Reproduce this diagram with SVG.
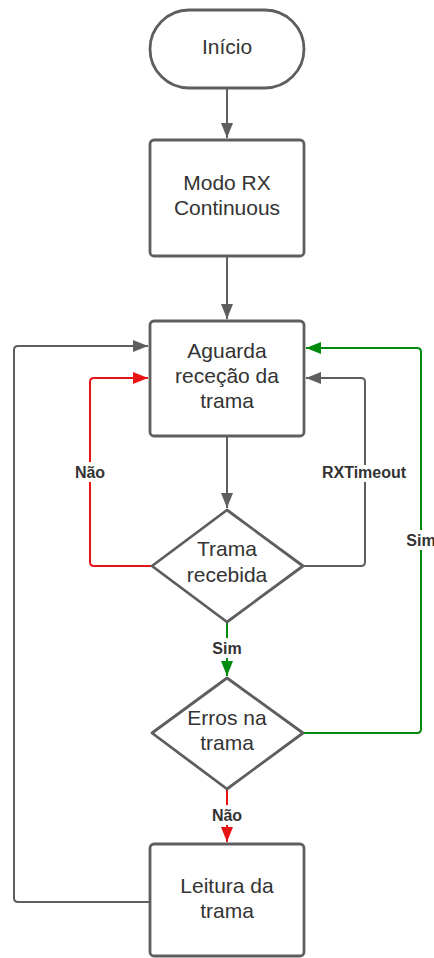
<svg xmlns="http://www.w3.org/2000/svg" width="434" height="958" viewBox="0 0 434 958">
<style>
.shape{fill:#fff;stroke:#5e5e5e;stroke-width:2.8;stroke-linejoin:round}
.t{font-family:"Liberation Sans",Arial,sans-serif;font-size:21px;fill:#333;text-anchor:middle}
.lbl{font-family:"Liberation Sans",Arial,sans-serif;font-size:16px;font-weight:bold;fill:#333;text-anchor:middle;stroke:#fff;stroke-width:8;paint-order:stroke;stroke-linejoin:round}
.c{fill:none;stroke-width:2}
.gray{stroke:#5e5e5e}
.green{stroke:#008a0e}
.red{stroke:#e81313}
</style>
<defs>
<marker id="ag" markerUnits="userSpaceOnUse" markerWidth="16" markerHeight="12" refX="15" refY="6" orient="auto"><path d="M0,0 L15,6 L0,12 z" fill="#5e5e5e"/></marker>
<marker id="agr" markerUnits="userSpaceOnUse" markerWidth="16" markerHeight="12" refX="15" refY="6" orient="auto"><path d="M0,0 L15,6 L0,12 z" fill="#008a0e"/></marker>
<marker id="ar" markerUnits="userSpaceOnUse" markerWidth="16" markerHeight="12" refX="15" refY="6" orient="auto"><path d="M0,0 L15,6 L0,12 z" fill="#e81313"/></marker>
</defs>
<g id="connectors">
<path class="c gray" d="M227,88 V138" marker-end="url(#ag)"/>
<path class="c gray" d="M227,257 V319" marker-end="url(#ag)"/>
<path class="c gray" d="M227,437 V508" marker-end="url(#ag)"/>
<path class="c green" d="M227,622 V676" marker-end="url(#agr)"/>
<path class="c red" d="M227,789 V842" marker-end="url(#ar)"/>
<path class="c red" d="M152,566 H94 Q90,566 90,562 V382 Q90,378 94,378 H148" marker-end="url(#ar)"/>
<path class="c gray" d="M303,566 H361 Q365,566 365,562 V382 Q365,378 361,378 H306" marker-end="url(#ag)"/>
<path class="c green" d="M303,733 H417 Q421,733 421,729 V352 Q421,348 417,348 H306" marker-end="url(#agr)"/>
<path class="c gray" d="M150,902 H18 Q14,902 14,898 V350 Q14,346 18,346 H148" marker-end="url(#ag)"/>
<text class="lbl" x="90" y="478">Não</text>
<text class="lbl" x="364" y="478">RXTimeout</text>
<text class="lbl" x="421" y="546">Sim</text>
<text class="lbl" x="227" y="654">Sim</text>
<text class="lbl" x="227" y="821">Não</text>
</g>
<g id="inicio">
<rect class="shape" x="150" y="10" width="154" height="78" rx="39"/>
<text class="t" x="227" y="54">Início</text>
</g>
<g id="modo-rx">
<rect class="shape" x="150" y="140" width="154" height="116" rx="4"/>
<text class="t" x="227" y="190">Modo RX</text>
<text class="t" x="227" y="215">Continuous</text>
</g>
<g id="aguarda">
<rect class="shape" x="150" y="321" width="154" height="115" rx="4"/>
<text class="t" x="227" y="358">Aguarda</text>
<text class="t" x="227" y="383">receção da</text>
<text class="t" x="227" y="408">trama</text>
</g>
<g id="trama-recebida">
<path class="shape" d="M227,510 L303,566 L227,622 L152,566 Z"/>
<text class="t" x="227" y="556">Trama</text>
<text class="t" x="227" y="582">recebida</text>
</g>
<g id="erros">
<path class="shape" d="M227,678 L303,733 L227,789 L152,733 Z"/>
<text class="t" x="227" y="725">Erros na</text>
<text class="t" x="227" y="750">trama</text>
</g>
<g id="leitura">
<rect class="shape" x="150" y="844" width="154" height="112" rx="4"/>
<text class="t" x="227" y="893">Leitura da</text>
<text class="t" x="227" y="918">trama</text>
</g>
</svg>
